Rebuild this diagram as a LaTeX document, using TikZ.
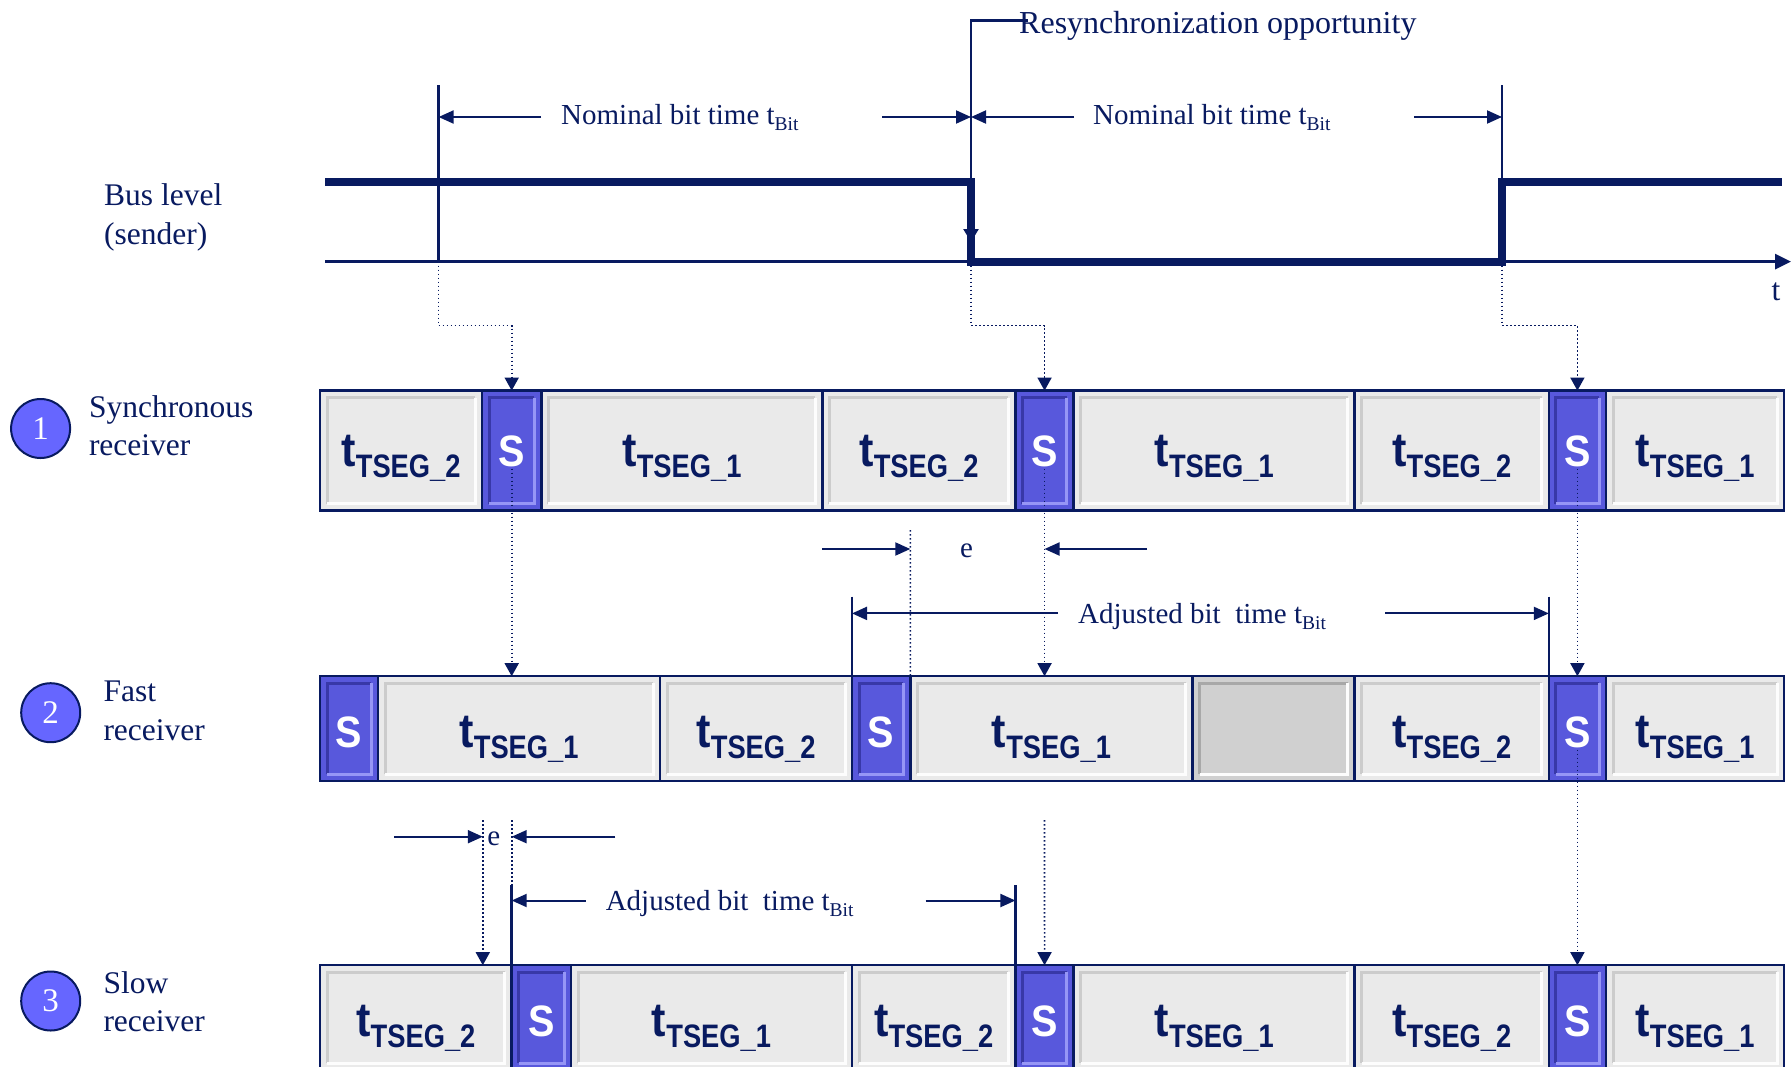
\documentclass[tikz,border=0pt]{standalone}
\usepackage{fontspec}
\setmainfont{Liberation Serif}
\newfontfamily\segfont[FakeStretch=0.9]{Liberation Sans Bold}
\newfontfamily\subfont[FakeStretch=0.84]{Liberation Sans Bold}
\usetikzlibrary{arrows.meta}

\definecolor{navy}{RGB}{8,26,96}
\definecolor{segface}{RGB}{234,234,234}
\definecolor{seghi}{RGB}{253,253,253}
\definecolor{seglo}{RGB}{204,204,204}
\definecolor{sface}{RGB}{88,88,220}
\definecolor{shi}{RGB}{150,150,246}
\definecolor{slo}{RGB}{56,56,168}
\definecolor{gface}{RGB}{208,208,208}
\definecolor{glo}{RGB}{168,168,168}
\definecolor{dotfill}{RGB}{102,102,255}

% segment label t_TSEG_n and bit-time symbol t_Bit
\newcommand\tseglbl[1]{{\fontsize{48}{48}\selectfont t}\raisebox{-11pt}{\subfont\fontsize{32.5}{32.5}\selectfont TSEG\_#1}}
\newcommand\tbit{t\raisebox{-6pt}{\fontsize{19.5}{19.5}\selectfont Bit}}
% distance from the top of a segment row to the label baseline
\newcommand\lblofs{76}

\tikzset{
  x=1pt, y=-1pt,
  bevel/.style 2 args={path picture={
    \draw[#1,line width=3pt]
      ([shift={(7pt,7pt)}]path picture bounding box.south west) --
      ([shift={(7pt,-7pt)}]path picture bounding box.north west) --
      ([shift={(-7pt,-7pt)}]path picture bounding box.north east);
    \draw[#2,line width=3pt]
      ([shift={(-7pt,-7pt)}]path picture bounding box.north east) --
      ([shift={(-7pt,7pt)}]path picture bounding box.south east) --
      ([shift={(7pt,7pt)}]path picture bounding box.south west);
  }},
  segbox/.style={rectangle, draw=navy, line width=2.5pt, inner sep=0pt, outer sep=0pt, anchor=north west},
  lseg/.style={segbox, fill=segface, bevel={seglo}{seghi}},
  sseg/.style={segbox, fill=sface, bevel={slo}{shi}},
  gseg/.style={segbox, fill=gface, bevel={glo}{seghi}},
  tlabel/.style={anchor=base, inner sep=0pt, text=navy, font=\segfont},
  slabel/.style={anchor=base, inner sep=0pt, text=white, font={\segfont\fontsize{44}{44}\selectfont}},
  sidelbl/.style={anchor=base west, inner sep=0pt, text=navy, font={\fontsize{31.5}{31.5}\selectfont}},
  dimlbl/.style={anchor=base west, inner sep=0pt, text=navy, font={\fontsize{29}{29}\selectfont}},
  numdot/.style={circle, minimum size=59pt, inner sep=0pt, fill=dotfill, draw=navy, line width=2pt,
                 text=white, font={\fontsize{33}{33}\selectfont}},
  signal/.style={draw=navy, line width=8pt, line cap=butt, line join=miter},
  axisline/.style={draw=navy, line width=3pt},
  marker/.style={draw=navy, line width=2.5pt},
  dimarrow/.style={draw=navy, line width=2pt, -{Triangle[length=15pt,width=13pt]}},
  dotline/.style={draw=navy, line width=1.6pt, dash pattern=on 1.6pt off 2.4pt},
  dotarrow/.style={dotline, -{Triangle[length=13pt,width=14pt]}},
}

% \seg{style}{name}{x1}{x2}{top}{height}
\newcommand\seg[6]{\node[#1, minimum width={(#4-#3)*1pt}, minimum height={(#6)*1pt}] (#2) at (#3,#5) {};}
% \tlab{segment}{n} and \slab{segment}
\newcommand\tlab[2]{\node[tlabel] (#1t) at ([yshift=-\lblofs pt]#1.north) {\tseglbl{#2}};}
\newcommand\slab[1]{\node[slabel] (#1t) at ([yshift=-\lblofs pt]#1.north) {S};}

\begin{document}
\begin{tikzpicture}
\useasboundingbox (0,0) rectangle (1791,1066);
\fill[white] (0,0) rectangle (1791,1066);
\clip (0,0) rectangle (1791,1066);

% ---------------- bus level of the sender ----------------
\node[sidelbl] (bus1) at (104,205.7) {Bus level};
\node[sidelbl] (bus2) at (104,244.5) {(sender)};

\coordinate (ax0) at (325,261.6);
\coordinate (ax1) at (1791,261.6);
\draw[axisline, -{Triangle[length=16pt,width=15pt]}] (ax0) -- (ax1);
\node[sidelbl, anchor=base] (tlab) at (1776,300) {t};

% edge markers
\coordinate (mAt) at (438.6,85);  \coordinate (mAb) at (438.6,261.6);
\coordinate (mCt) at (1502,85);   \coordinate (mCb) at (1502,261.6);
\coordinate (mBb) at (971,261.6);
\draw[marker] (mAt) -- (mAb);
\draw[marker] (mCt) -- (mCb);

% resynchronization opportunity
\node[sidelbl, font={\fontsize{32}{32}\selectfont}] (res) at (1019,33) {Resynchronization opportunity};
\coordinate (rs0) at (1028,20.6);
\coordinate (rs1) at (971,20.6);
\coordinate (rs2) at (971,242);
\draw[marker, -{Triangle[length=13pt,width=15pt]}] (rs0) -- (rs1) -- (rs2);

% sender signal
\coordinate (s0) at (325,181.6);
\coordinate (s1) at (971,181.6);
\coordinate (s2) at (1502,181.6);
\coordinate (s3) at (1782,181.6);
\draw[signal] (s0) -- (s1) -- (mBb) -- (mCb) -- (s2) -- (s3);

% nominal bit times
\node[dimlbl] (nom1) at (561,124) {Nominal bit time \tbit};
\node[dimlbl] (nom2) at (1093,124) {Nominal bit time \tbit};
\coordinate (n1a) at (541,117);  \coordinate (n1b) at (882,117);
\coordinate (n2a) at (1074,117); \coordinate (n2b) at (1414,117);
\draw[dimarrow] (n1a) -- (mAt |- n1a);
\draw[dimarrow] (n1b) -- (rs1 |- n1b);
\draw[dimarrow] (n2a) -- (rs1 |- n2a);
\draw[dimarrow] (n2b) -- (mCt |- n2b);

% ---------------- receivers ----------------
\node[numdot] (n1) at (40.6,428.5) {1};
\node[numdot] (n2) at (50.7,712.7) {2};
\node[numdot] (n3) at (50.7,1001) {3};
\node[sidelbl] (l1a) at (88.8,417) {Synchronous};
\node[sidelbl] (l1b) at (88.8,455) {receiver};
\node[sidelbl] (l2a) at (103.3,701.7) {Fast};
\node[sidelbl] (l2b) at (103.3,740) {receiver};
\node[sidelbl] (l3a) at (103.3,993) {Slow};
\node[sidelbl] (l3b) at (103.3,1031.7) {receiver};

% row 1: synchronous receiver
\seg{lseg}{a1}{320}{482}{390.6}{120}
\seg{sseg}{a2}{482}{541.4}{390.6}{120}
\seg{lseg}{a3}{541.4}{822.4}{390.6}{120}
\seg{lseg}{a4}{822.4}{1015.4}{390.6}{120}
\seg{sseg}{a5}{1015.4}{1073.7}{390.6}{120}
\seg{lseg}{a6}{1073.7}{1354.7}{390.6}{120}
\seg{lseg}{a7}{1354.7}{1548.8}{390.6}{120}
\seg{sseg}{a8}{1548.8}{1606}{390.6}{120}
\seg{lseg}{a9}{1606}{1784}{390.6}{120}
\tlab{a1}{2} \slab{a2} \tlab{a3}{1} \tlab{a4}{2} \slab{a5} \tlab{a6}{1} \tlab{a7}{2} \slab{a8} \tlab{a9}{1}

% row 2: fast receiver
\renewcommand\lblofs{71.5}
\seg{sseg}{b1}{320}{378}{676.2}{105}
\seg{lseg}{b2}{378}{660}{676.2}{105}
\seg{lseg}{b3}{660}{852}{676.2}{105}
\seg{sseg}{b4}{852}{910.3}{676.2}{105}
\seg{lseg}{b5}{910.3}{1192.5}{676.2}{105}
\seg{gseg}{b6}{1192.5}{1354.7}{676.2}{105}
\seg{lseg}{b7}{1354.7}{1548.8}{676.2}{105}
\seg{sseg}{b8}{1548.8}{1606}{676.2}{105}
\seg{lseg}{b9}{1606}{1784}{676.2}{105}
\slab{b1} \tlab{b2}{1} \tlab{b3}{2} \slab{b4} \tlab{b5}{1} \tlab{b7}{2} \slab{b8} \tlab{b9}{1}

% row 3: slow receiver
\renewcommand\lblofs{71}
\seg{lseg}{c1}{320}{511.7}{965.2}{105}
\seg{sseg}{c2}{511.7}{571}{965.2}{105}
\seg{lseg}{c3}{571}{852}{965.2}{105}
\seg{lseg}{c4}{852}{1015.4}{965.2}{105}
\seg{sseg}{c5}{1015.4}{1073.7}{965.2}{105}
\seg{lseg}{c6}{1073.7}{1354.7}{965.2}{105}
\seg{lseg}{c7}{1354.7}{1548.8}{965.2}{105}
\seg{sseg}{c8}{1548.8}{1606}{965.2}{105}
\seg{lseg}{c9}{1606}{1784}{965.2}{105}
\tlab{c1}{2} \slab{c2} \tlab{c3}{1} \tlab{c4}{2} \slab{c5} \tlab{c6}{1} \tlab{c7}{2} \slab{c8} \tlab{c9}{1}

% ---------------- sample point projections ----------------
\coordinate (kA) at (438.6,325.5);
\coordinate (kB) at (971,325.5);
\coordinate (kC) at (1502,325.5);
\draw[dotarrow] (mAb) -- (kA) -| (a2.north);
\draw[dotarrow] (mBb) -- (kB) -| (a5.north);
\draw[dotarrow] (mCb) -- (kC) -| (a8.north);

\draw[dotarrow] ([yshift=-2pt]a2t.base) -- (b2.north -| a2t.base);
\draw[dotarrow] ([yshift=-2pt]a5t.base) -- (b5.north -| a5t.base);
\draw[dotarrow] ([yshift=-2pt]a8t.base) -- (b8.north);
\draw[dotarrow] ([yshift=-2pt]b8t.base) -- (c8.north);
\coordinate (q5) at (1044.5,820);
\draw[dotarrow] (q5) -- (c5.north);

% phase error e, fast receiver
\coordinate (e1d) at (910.3,530);
\draw[dotline] (e1d) -- (b4.north east);
\coordinate (e1a) at (822.4,549);
\coordinate (e1b) at (1147,549);
\draw[dimarrow] (e1a) -- (e1d |- e1a);
\draw[dimarrow] (e1b) -- (a5t |- e1b);
\node[dimlbl, anchor=base] (e1) at (966.6,557) {e};

% adjusted bit time, fast receiver
\coordinate (j1a) at (852,596.7);
\coordinate (j1b) at (1548.8,596.7);
\draw[marker] (j1a) -- (b4.north west);
\draw[marker] (j1b) -- (b8.north west);
\node[dimlbl] (adj1) at (1078,623) {Adjusted bit\ \ time \tbit};
\coordinate (h1a) at (1058,613.4);
\coordinate (h1b) at (1385,613.4);
\draw[dimarrow] (h1a) -- (j1a |- h1a);
\draw[dimarrow] (h1b) -- (j1b |- h1b);

% phase error e, slow receiver
\coordinate (e2d) at (482.8,820);
\coordinate (e2u) at (511.7,820);
\coordinate (j2a) at (511.7,885);
\coordinate (j2b) at (1015.4,885);
\draw[dotarrow] (e2d) -- (e2d |- c1.north);
\draw[dotline] (e2u) -- (j2a);
\coordinate (e2a) at (394,836.7);
\coordinate (e2b) at (615.4,836.7);
\draw[dimarrow] (e2a) -- (e2d |- e2a);
\draw[dimarrow] (e2b) -- (e2u |- e2b);
\node[dimlbl, anchor=base] (e2) at (493.7,845) {e};

% adjusted bit time, slow receiver
\draw[marker] (j2a) -- (c2.north west);
\draw[marker] (j2b) -- (c5.north west);
\node[dimlbl] (adj2) at (605.6,910) {Adjusted bit\ \ time \tbit};
\coordinate (h2a) at (585.5,900.5);
\coordinate (h2b) at (925.6,900.5);
\draw[dimarrow] (h2a) -- (j2a |- h2a);
\draw[dimarrow] (h2b) -- (j2b |- h2b);
\end{tikzpicture}
\end{document}
